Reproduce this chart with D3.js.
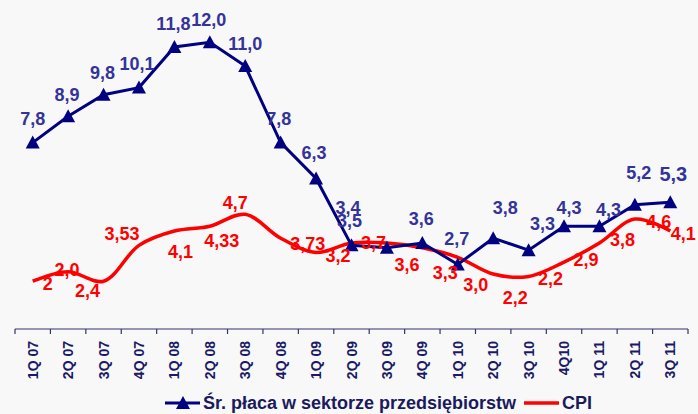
<!DOCTYPE html>
<html>
<head>
<meta charset="utf-8">
<script src="https://cdn.jsdelivr.net/npm/d3@7"></script>
<style>
    body { margin: 0; background: #f8f8f8; }
    svg { display: block; font-family: "Liberation Sans", Arial, sans-serif; font-weight: bold; }
</style>
</head>
<body>
<div id="chart"></div>
<script>
// quarters on the x axis
const quarters = ["1Q 07", "2Q 07", "3Q 07", "4Q 07", "1Q 08", "2Q 08", "3Q 08", "4Q 08",
    "1Q 09", "2Q 09", "3Q 09", "4Q 09", "1Q 10", "2Q 10", "3Q 10", "4Q10", "1Q 11", "2Q 11", "3Q 11"];

// average wage in enterprise sector, y/y %
const wages = [7.8, 8.9, 9.8, 10.1, 11.8, 12.0, 11.0, 7.8, 6.3, 3.5, 3.4, 3.6, 2.7, 3.8, 3.3, 4.3, 4.3, 5.2, 5.3];
const wageLabels = ["7,8", "8,9", "9,8", "10,1", "11,8", "12,0", "11,0", "7,8", "6,3", "3,5", "3,4", "3,6",
    "2,7", "3,8", "3,3", "4,3", "4,3", "5,2", "5,3"];

// CPI, y/y %
const cpi = [2.0, 2.4, 2.0, 3.5, 4.1, 4.3, 4.8, 3.8, 3.2, 3.6, 3.6, 3.4, 3.0, 2.3, 2.2, 2.8, 3.6, 4.6, 4.1];
const cpiLabels = ["2", "2,0", "2,4", "3,53", "4,1", "4,33", "4,7", "3,73", "3,2", "3,7", "3,6", "3,3",
    "3,0", "2,2", "2,2", "2,9", "3,8", "4,6", "4,1"];

// label offsets from their points (layout only)
const wageOffsets = [[0,-24],[-1,-22],[-1,-22],[-2,-24],[-1,-23],[-1,-23],[0,-23],[-2,-24],[-2,-26],
    [-2,-25],[-39,-40],[-1,-24],[-1,-26],[12,-31],[14,-27],[5,-19],[9,-17],[4,-32],[3,-29]];
const cpiOffsets = [[15,2],[-1,-2],[-16,9],[-17,-12],[6,21],[12,14],[-10,-12],[27,5],[22,3],[22,0],
    [20,22],[23,25],[18,27],[22,23],[22,2],[22,-3],[23,-3],[24,2],[13,3]];

const width = 698, height = 414;
const left = 15, right = 688, bottom = 329;

const svg = d3.select("#chart").append("svg")
    .attr("width", width)
    .attr("height", height);

const x = d3.scaleBand().domain(quarters).range([left, right]);
const cx = q => x(q) + x.bandwidth() / 2;
const y = d3.scaleLinear().domain([0, 13]).range([bottom, bottom - 13 * 23.9]);

const navy = "#000080", labelBlue = "#333399", red = "#ff0000";

// x axis with ticks between categories
svg.append("line")
    .attr("x1", left).attr("x2", right)
    .attr("y1", bottom).attr("y2", bottom)
    .attr("stroke", "#333366").attr("stroke-width", 1.2);

const bounds = quarters.map(q => x(q)).concat([right]);
svg.selectAll(".tick").data(bounds).enter().append("line")
    .attr("x1", d => d).attr("x2", d => d)
    .attr("y1", bottom).attr("y2", bottom + 5)
    .attr("stroke", "#333366").attr("stroke-width", 1.2);

svg.selectAll(".qlabel").data(quarters).enter().append("text")
    .attr("transform", d => `translate(${cx(d)},${bottom + 12}) rotate(-90)`)
    .attr("text-anchor", "end")
    .attr("dy", "0.36em")
    .attr("font-size", 14)
    .attr("fill", "#1a1a66")
    .text(d => d);

// CPI smooth line
const cpiLine = d3.line()
    .x((d, i) => cx(quarters[i]))
    .y(d => y(d))
    .curve(d3.curveCatmullRom.alpha(0.5));

svg.append("path")
    .datum(cpi)
    .attr("d", cpiLine)
    .attr("fill", "none")
    .attr("stroke", red)
    .attr("stroke-width", 3.5);

// wage line
const wageLine = d3.line()
    .x((d, i) => cx(quarters[i]))
    .y(d => y(d));

svg.append("path")
    .datum(wages)
    .attr("d", wageLine)
    .attr("fill", "none")
    .attr("stroke", navy)
    .attr("stroke-width", 3);

const tri = "M0,-7L7,6L-7,6Z";
svg.selectAll(".marker").data(wages).enter().append("path")
    .attr("d", tri)
    .attr("transform", (d, i) => `translate(${cx(quarters[i])},${y(d)})`)
    .attr("fill", navy);

// data labels
svg.selectAll(".clabel").data(cpiLabels).enter().append("text")
    .attr("x", (d, i) => cx(quarters[i]) + cpiOffsets[i][0])
    .attr("y", (d, i) => y(cpi[i]) + cpiOffsets[i][1])
    .attr("dy", "0.36em")
    .attr("text-anchor", "middle")
    .attr("font-size", 18)
    .attr("fill", red)
    .text(d => d);

svg.selectAll(".wlabel").data(wageLabels).enter().append("text")
    .attr("x", (d, i) => cx(quarters[i]) + wageOffsets[i][0])
    .attr("y", (d, i) => y(wages[i]) + wageOffsets[i][1])
    .attr("dy", "0.36em")
    .attr("text-anchor", "middle")
    .attr("font-size", (d, i) => i === wages.length - 1 ? 20 : 18)
    .attr("fill", labelBlue)
    .text(d => d);

// legend
const lg = svg.append("g").attr("transform", "translate(0,403)");
lg.append("line").attr("x1", 165).attr("x2", 200).attr("y1", 0).attr("y2", 0)
    .attr("stroke", navy).attr("stroke-width", 3);
lg.append("path").attr("d", tri).attr("transform", "translate(183,0)").attr("fill", navy);
lg.append("text").attr("x", 203).attr("y", 0).attr("dy", "0.36em")
    .attr("font-size", 18).attr("fill", "#1a1a5e")
    .text("Śr. płaca w sektorze przedsiębiorstw");
lg.append("line").attr("x1", 524).attr("x2", 559).attr("y1", 0).attr("y2", 0)
    .attr("stroke", red).attr("stroke-width", 3.5);
lg.append("text").attr("x", 562).attr("y", 0).attr("dy", "0.36em")
    .attr("font-size", 18).attr("fill", "#1a1a5e")
    .text("CPI");
</script>
</body>
</html>
